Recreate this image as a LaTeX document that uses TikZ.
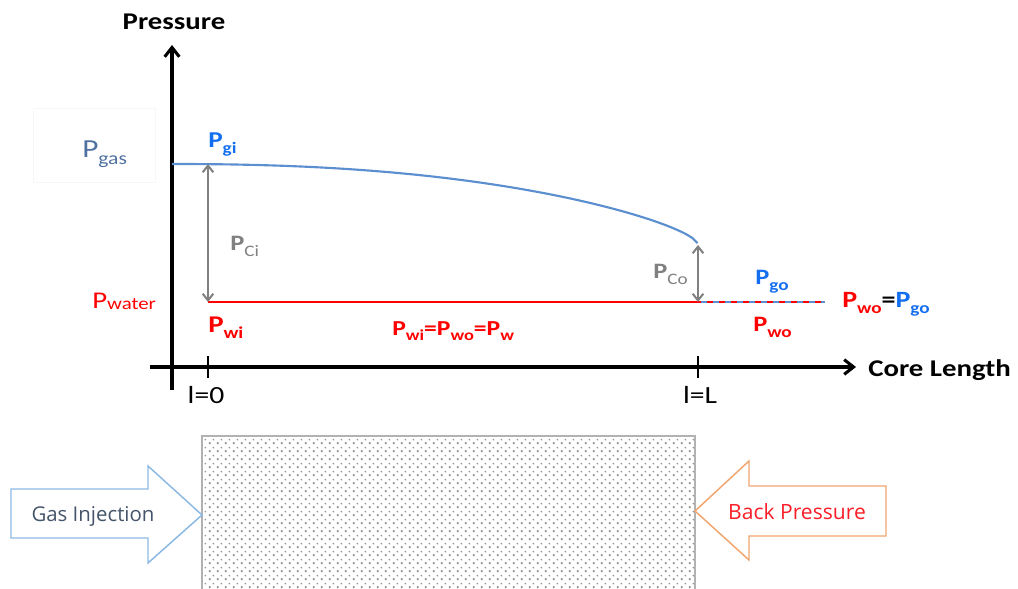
\documentclass[tikz,border=0pt]{standalone}
\usepackage{fontspec}
\setmainfont{Carlito}[FakeStretch=1.2]
\newfontfamily\osans{Open Sans}
\usetikzlibrary{arrows.meta,patterns}
\definecolor{gasblue}{RGB}{91,143,207}
\definecolor{lblblue}{RGB}{20,110,240}
\definecolor{pgasblue}{RGB}{79,113,160}
\definecolor{pred}{RGB}{255,0,0}
\definecolor{pgray}{RGB}{128,128,128}
\definecolor{injblue}{RGB}{140,185,228}
\definecolor{injtext}{RGB}{68,84,106}
\definecolor{backorange}{RGB}{240,165,110}
\definecolor{backred}{RGB}{250,30,40}
\pgfdeclarepatternformonly{coredots}{\pgfpointorigin}{\pgfpoint{6pt}{6pt}}{\pgfpoint{6pt}{6pt}}{%
  \pgfpathcircle{\pgfpoint{1.5pt}{1.5pt}}{1.05pt}%
  \pgfpathcircle{\pgfpoint{4.5pt}{4.5pt}}{0.75pt}%
  \pgfusepath{fill}}
\newcommand\PS[4]{{\fontsize{#1}{#1}\selectfont\bfseries P\raisebox{-0.28em}{\fontsize{#2}{#2}\selectfont #3}}}
\begin{document}
\begin{tikzpicture}[x=0.75pt,y=-0.75pt,
  lbl/.style={inner sep=0pt,anchor=base west},
  axisline/.style={line width=2.3pt,-{Straight Barb[length=7pt,width=11pt]}},
  gaparrow/.style={pgray,line width=1.5pt,{Straight Barb[length=5pt,width=8pt]}-{Straight Barb[length=5pt,width=8pt]}}]
\useasboundingbox (0,0) rectangle (1018,589);
% coordinates
\coordinate (yb) at (172,390);
\coordinate (yt) at (172,45);
\coordinate (xl) at (150,367);
\coordinate (xr) at (856,367);
\coordinate (t0a) at (208,356);
\coordinate (t0b) at (208,378);
\coordinate (tLa) at (698,356);
\coordinate (tLb) at (698,378);
\coordinate (gi) at (208,164);
\coordinate (wi) at (208,302);
\coordinate (go) at (698,245);
\coordinate (wo) at (698,302);
\coordinate (wend) at (825,302);
% faint box around Pgas
\draw[black!3,line width=0.6pt] (33,108) rectangle (155,182);
% axes
\draw[axisline] (yb) -- (yt);
\draw[axisline] (xl) -- (xr);
\draw[line width=1.6pt] (t0a) -- (t0b);
\draw[line width=1.6pt] (tLa) -- (tLb);
% gas curve
\draw[gasblue,line width=1.6pt] (172,164) -- plot[domain=0.002:1,samples=100]
  ({172+526*\x},{164+81*(0.5*\x^2.46+0.5*(1-sqrt(max(1-\x*\x,0))))});
% water line
\draw[pred,line width=1.8pt] (wi) -- (wo);
\draw[gasblue,line width=1.8pt] (wo) -- (wend);
\draw[pred,line width=1.8pt,dash pattern=on 4.5pt off 4.5pt,dash phase=2pt] (wo) -- (wend);
% capillary arrows
\draw[gaparrow] (gi) -- (wi);
\draw[gaparrow] (go) -- (wo);
% labels
\node[inner sep=0pt,anchor=base] (ptitle) at (174,29) {\fontsize{18}{18}\selectfont\bfseries Pressure};
\node[lbl] (ctitle) at (868,376) {\fontsize{18}{18}\selectfont\bfseries Core Length};
\node[inner sep=0pt,anchor=base] (l0) at (206,403) {\fontsize{18.5}{18.5}\selectfont l=0};
\node[inner sep=0pt,anchor=base] (lL) at (700,403) {\fontsize{18.5}{18.5}\selectfont l=L};
\node[lbl,text=pgasblue] (pgas) at (82,157) {\fontsize{19.5}{19.5}\selectfont P\raisebox{-0.3em}{\fontsize{13.5}{13.5}\selectfont gas}};
\node[lbl,text=pred] (pwater) at (92,308) {\fontsize{18}{18}\selectfont P\raisebox{-0.08em}{\fontsize{13}{13}\selectfont water}};
\node[lbl,text=lblblue] (pgi) at (208,147) {\PS{17}{12}{gi}{}};
\node[lbl,text=pred] (pwi) at (208,332) {\PS{18}{12.5}{wi}{}};
\node[lbl,text=pgray] (pci) at (230,250) {\fontsize{16.5}{16.5}\selectfont\bfseries P\raisebox{-0.28em}{\fontsize{12}{12}\selectfont\mdseries Ci}};
\node[lbl,text=pgray] (pco) at (653,278) {\fontsize{16.5}{16.5}\selectfont\bfseries P\raisebox{-0.28em}{\fontsize{12}{12}\selectfont\mdseries Co}};
\node[lbl,text=pred] (pmid) at (392,335) {\PS{16}{11.5}{wi}{}{\fontsize{16}{16}\selectfont\bfseries =}\PS{16}{11.5}{wo}{}{\fontsize{16}{16}\selectfont\bfseries =}\PS{16}{11.5}{w}{}};
\node[lbl,text=lblblue] (pgo) at (755,284) {\PS{16.5}{12}{go}{}};
\node[lbl,text=pred] (pwo) at (753,331) {\PS{16.5}{12}{wo}{}};
\node[lbl] (peq) at (842,307) {\textcolor{pred}{\PS{17.5}{12}{wo}{}}{\fontsize{17.5}{17.5}\selectfont\bfseries =}\textcolor{lblblue}{\PS{17.5}{12}{go}{}}};
% core sample
\draw[gray!60,line width=1pt,pattern=coredots,pattern color=gray!85] (202,436) rectangle (695,595);
\coordinate (corel) at (202,515);
\coordinate (corer) at (695,511);
% gas injection arrow
\draw[injblue,line width=1.1pt,line join=miter] (11,489) -- (148,489) -- (148,466) -- (corel) -- (148,563) -- (148,538) -- (11,538) -- cycle;
\node[text=injtext] (ginj) at (93,516) {\osans\fontsize{15.3}{15.3}\selectfont Gas Injection};
% back pressure arrow
\draw[backorange,line width=1.1pt,line join=miter] (corer) -- (749,461) -- (749,486) -- (886,486) -- (886,536) -- (749,536) -- (749,560) -- cycle;
\node[text=backred] (bp) at (797,512) {\osans\fontsize{15.8}{15.8}\selectfont Back Pressure};
\end{tikzpicture}
\end{document}
